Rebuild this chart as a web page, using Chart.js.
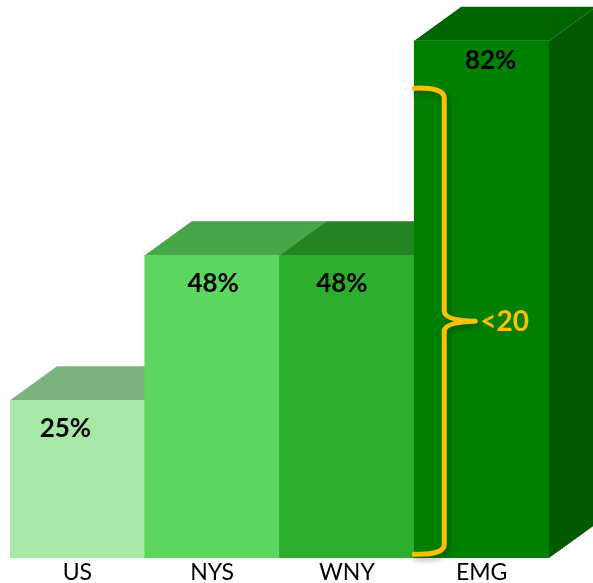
<!DOCTYPE html>
<html>
<head>
<meta charset="utf-8">
<script src="https://cdn.jsdelivr.net/npm/chart.js@4"></script>
<style>
  html, body { margin: 0; padding: 0; background: #fff; }
  #wrap { width: 593px; height: 583px; }
</style>
</head>
<body>
<div id="wrap"><canvas id="regionChart" width="593" height="583"></canvas></div>
<script>
const categories = ["US", "NYS", "WNY", "EMG"];
const percentValues = [25, 48, 48, 82];
const bracketLabel = "<20";
const bracketRange = [0.6, 74.5];

const frontColors = ["#a6e9a6", "#5dd65f", "#2eae2e", "#008000"];
const topColors = ["#7ab27c", "#47a54a", "#248424", "#006400"];
const sideColor = "#005a00";
const braceColor = "#ffc000";
const DX = 47, DY = -34;

// top faces + side faces, drawn behind the bar fronts
const cubePlugin = {
    id: "cube",
    beforeDatasetsDraw(chart) {
        const ctx = chart.ctx;
        const bars = chart.getDatasetMeta(0).data;
        ctx.save();
        bars.forEach((bar, i) => {
            const l = bar.x - bar.width / 2, r = bar.x + bar.width / 2;
            ctx.fillStyle = topColors[i];
            ctx.beginPath();
            ctx.moveTo(l, bar.y);
            ctx.lineTo(r, bar.y);
            ctx.lineTo(r + DX, bar.y + DY);
            ctx.lineTo(l + DX, bar.y + DY);
            ctx.closePath();
            ctx.fill();

            ctx.fillStyle = i === bars.length - 1 ? sideColor : topColors[i];
            ctx.beginPath();
            ctx.moveTo(r, bar.y);
            ctx.lineTo(r + DX, bar.y + DY);
            ctx.lineTo(r + DX, bar.base + DY);
            ctx.lineTo(r, bar.base);
            ctx.closePath();
            ctx.fill();
        });
        ctx.restore();
    },
    afterDatasetsDraw(chart) {
        const ctx = chart.ctx;
        const bars = chart.getDatasetMeta(0).data;
        const yScale = chart.scales.y;
        ctx.save();
        // value labels
        ctx.fillStyle = "#000";
        ctx.font = "bold 26px Lato, 'Open Sans', sans-serif";
        ctx.textAlign = "center";
        ctx.textBaseline = "middle";
        const nudge = [-12, 1, -5, 9];
        bars.forEach((bar, i) => {
            const off = i === bars.length - 1 ? 20 : 28;
            ctx.fillText(percentValues[i] + "%", bar.x + nudge[i], bar.y + off);
        });

        // curly bracket on the last bar
        const last = bars[bars.length - 1];
        const left = last.x - last.width / 2;
        const x = left + 30;
        const yTop = yScale.getPixelForValue(bracketRange[1]);
        const yBot = yScale.getPixelForValue(bracketRange[0]);
        const yMid = (yTop + yBot) / 2;
        const tip = x + 31;
        ctx.shadowColor = "rgba(0,0,0,0.35)";
        ctx.shadowBlur = 6;
        ctx.shadowOffsetX = 2;
        ctx.shadowOffsetY = 3;
        ctx.strokeStyle = braceColor;
        ctx.lineWidth = 5;
        ctx.lineCap = "round";
        ctx.beginPath();
        ctx.moveTo(left, yTop);
        ctx.quadraticCurveTo(x, yTop - 1, x, yTop + 10);
        ctx.lineTo(x, yMid - 10);
        ctx.quadraticCurveTo(x, yMid - 1, tip, yMid);
        ctx.moveTo(tip, yMid);
        ctx.quadraticCurveTo(x, yMid + 1, x, yMid + 10);
        ctx.lineTo(x, yBot - 10);
        ctx.quadraticCurveTo(x, yBot + 1, left, yBot);
        ctx.stroke();
        ctx.shadowColor = "transparent";
        ctx.fillStyle = braceColor;
        ctx.font = "bold 28px Lato, 'Open Sans', sans-serif";
        ctx.textAlign = "left";
        ctx.fillText(bracketLabel, tip + 5, yMid + 1);
        ctx.restore();
    }
};

const chartElement = document.getElementById("regionChart");
new Chart(chartElement, {
    type: "bar",
    data: {
        labels: categories,
        datasets: [{
            label: "Percent",
            data: percentValues,
            backgroundColor: frontColors,
            borderWidth: 0,
            barPercentage: 1,
            categoryPercentage: 1
        }]
    },
    options: {
        responsive: false,
        animation: false,
        layout: { padding: { left: 10, right: 44, top: 3, bottom: 0 } },
        plugins: {
            legend: { display: false },
            tooltip: { enabled: false }
        },
        scales: {
            x: {
                grid: { display: false, drawTicks: false },
                border: { display: false },
                ticks: {
                    color: "#000",
                    padding: 1,
                    font: { family: "Lato, 'Open Sans', sans-serif", size: 23 }
                },
                afterFit: (scale) => { scale.height = 25; }
            },
            y: {
                display: false,
                min: 0,
                max: 88
            }
        }
    },
    plugins: [cubePlugin]
});
</script>
</body>
</html>
